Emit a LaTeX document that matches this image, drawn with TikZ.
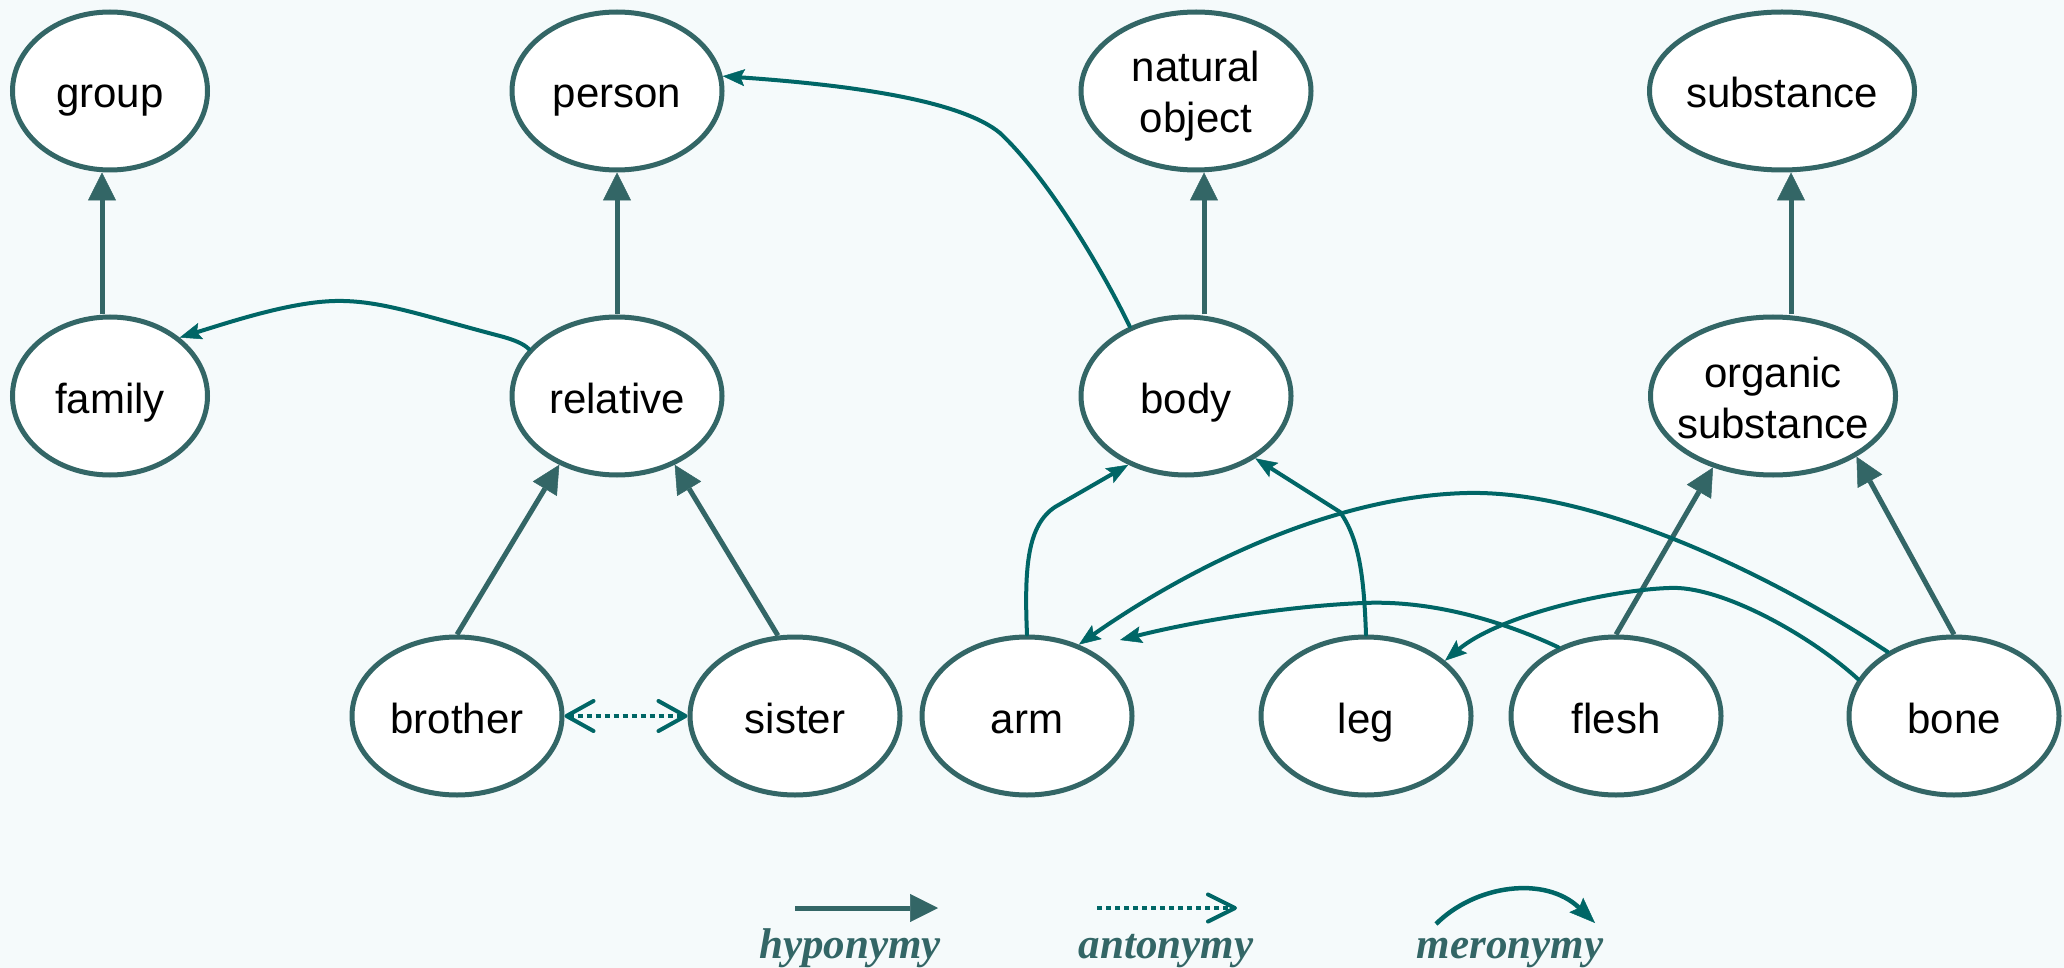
\documentclass[tikz,border=0pt]{standalone}
\usepackage{fontspec}
\setmainfont{Liberation Sans}
\newfontfamily\legendfont{Liberation Serif}
\usetikzlibrary{arrows.meta,shapes.geometric}
\definecolor{hypoc}{RGB}{51,102,102}
\definecolor{meroc}{RGB}{0,102,102}
\definecolor{bgc}{RGB}{245,250,251}
\begin{document}
\begin{tikzpicture}[x=1pt,y=-1pt,
  concept/.style={ellipse, draw=hypoc, line width=5pt, fill=white,
    inner sep=0pt, inner xsep=-10pt, minimum width=210pt, minimum height=158pt,
    font=\fontsize{42}{51}\selectfont, align=center, text height=42pt, text depth=8pt},
  twoline/.style={text height=92pt, text depth=8pt},
  hypo/.style={draw=hypoc, line width=5pt, -{Triangle[length=28pt,width=28pt,line width=0.5pt]}},
  mero/.style={draw=meroc, line width=4pt, line cap=round, -{Stealth[length=22pt,width=17pt,inset=4pt,line width=0.5pt]}},
  anto/.style={draw=meroc, line width=4pt, dash pattern=on 5pt off 4pt,
    {Straight Barb[length=27pt,width=30pt,round]}-{Straight Barb[length=27pt,width=30pt,round]}},
  legendtext/.style={font=\legendfont\bfseries\itshape\fontsize{43}{50}\selectfont, text=hypoc, anchor=base}
]
\fill[bgc] (0,0) rectangle (2064,968);
\useasboundingbox (0,0) rectangle (2064,968);

% top row
\node[concept, minimum width=195pt] (group) at (110,91) {group};
\node[concept] (person) at (617,91) {person};
\node[concept, twoline, minimum width=230pt] (natobj) at (1196,91) {natural\\object};
\node[concept, minimum width=265pt] (substance) at (1782,91) {substance};
% middle row
\node[concept, minimum width=195pt] (family) at (110,396) {family};
\node[concept] (relative) at (617,396) {relative};
\node[concept] (body) at (1186,396) {body};
\node[concept, twoline, minimum width=245pt] (organic) at (1773,396) {organic\\substance};
% bottom row
\node[concept] (brother) at (457,716) {brother};
\node[concept] (sister) at (795,716) {sister};
\node[concept] (arm) at (1027,716) {arm};
\node[concept] (leg) at (1366,716) {leg};
\node[concept] (flesh) at (1616,716) {flesh};
\node[concept] (bone) at (1954,716) {bone};

% hyponymy
\draw[hypo] ([xshift=-8pt]family.north) -- ([xshift=-8pt]group.south);
\draw[hypo] (relative.north) -- (person.south);
\draw[hypo] ([xshift=18pt]body.north) -- ([xshift=8pt]natobj.south);
\draw[hypo] ([xshift=18pt]organic.north) -- ([xshift=9pt]substance.south);
\draw[hypo] (brother.north) -- (relative.230);
\draw[hypo] (sister.102) -- (relative.310);
\draw[hypo] (flesh.north) -- (organic.230);
\draw[hypo] (bone.north) -- (organic.324);

% antonymy
\draw[anto] (brother.east) -- (sister.west);

% meronymy
\coordinate (armtip) at (1120,640);
\draw[mero] (relative.152) .. controls (524,344) and (515,340) .. (500,336)
  .. controls (420,315) and (380,300) .. (335,301)
  .. controls (290,302) and (230,322) .. (family.40);
\draw[mero] (body.129) .. controls (1105,275) and (1050,180) .. (1000,133)
  .. controls (960,100) and (850,85) .. (person.8);
\draw[mero] (arm.north) .. controls (1024,565) and (1028,525) .. (1055,507) -- (body.230);
\draw[mero] (leg.north) .. controls (1364,580) and (1360,540) .. (1340,512) -- (body.318);
\draw[mero] (bone.136) .. controls (1780,580) and (1600,490) .. (1467,493)
  .. controls (1340,496) and (1200,560) .. (arm.54);
\draw[mero] (bone.159) .. controls (1810,635) and (1720,585) .. (1669,588)
  .. controls (1610,590) and (1500,615) .. (leg.35);
\draw[mero] (flesh.130) .. controls (1500,620) and (1430,600) .. (1363,603)
  .. controls (1290,606) and (1200,620) .. (armtip);

% legend
\coordinate (hl1) at (795,908);
\coordinate (hl2) at (938,908);
\coordinate (al1) at (1097,908);
\coordinate (al2) at (1237,908);
\coordinate (ml1) at (1436,924);
\coordinate (ml2) at (1595,923);
\draw[hypo] (hl1) -- (hl2);
\draw[meroc, line width=4pt, dash pattern=on 5pt off 4pt, -{Straight Barb[length=27pt,width=27pt,round]}] (al1) -- (al2);
\draw[meroc, line width=4.5pt, -{Stealth[length=26pt,width=20pt,inset=4pt,line width=0.5pt]}] (ml1) .. controls (1475,885) and (1545,875) .. (ml2);
\node[legendtext] (lh) at (850,958) {hyponymy};
\node[legendtext] (la) at (1166,958) {antonymy};
\node[legendtext] (lm) at (1510,958) {meronymy};
\end{tikzpicture}
\end{document}
